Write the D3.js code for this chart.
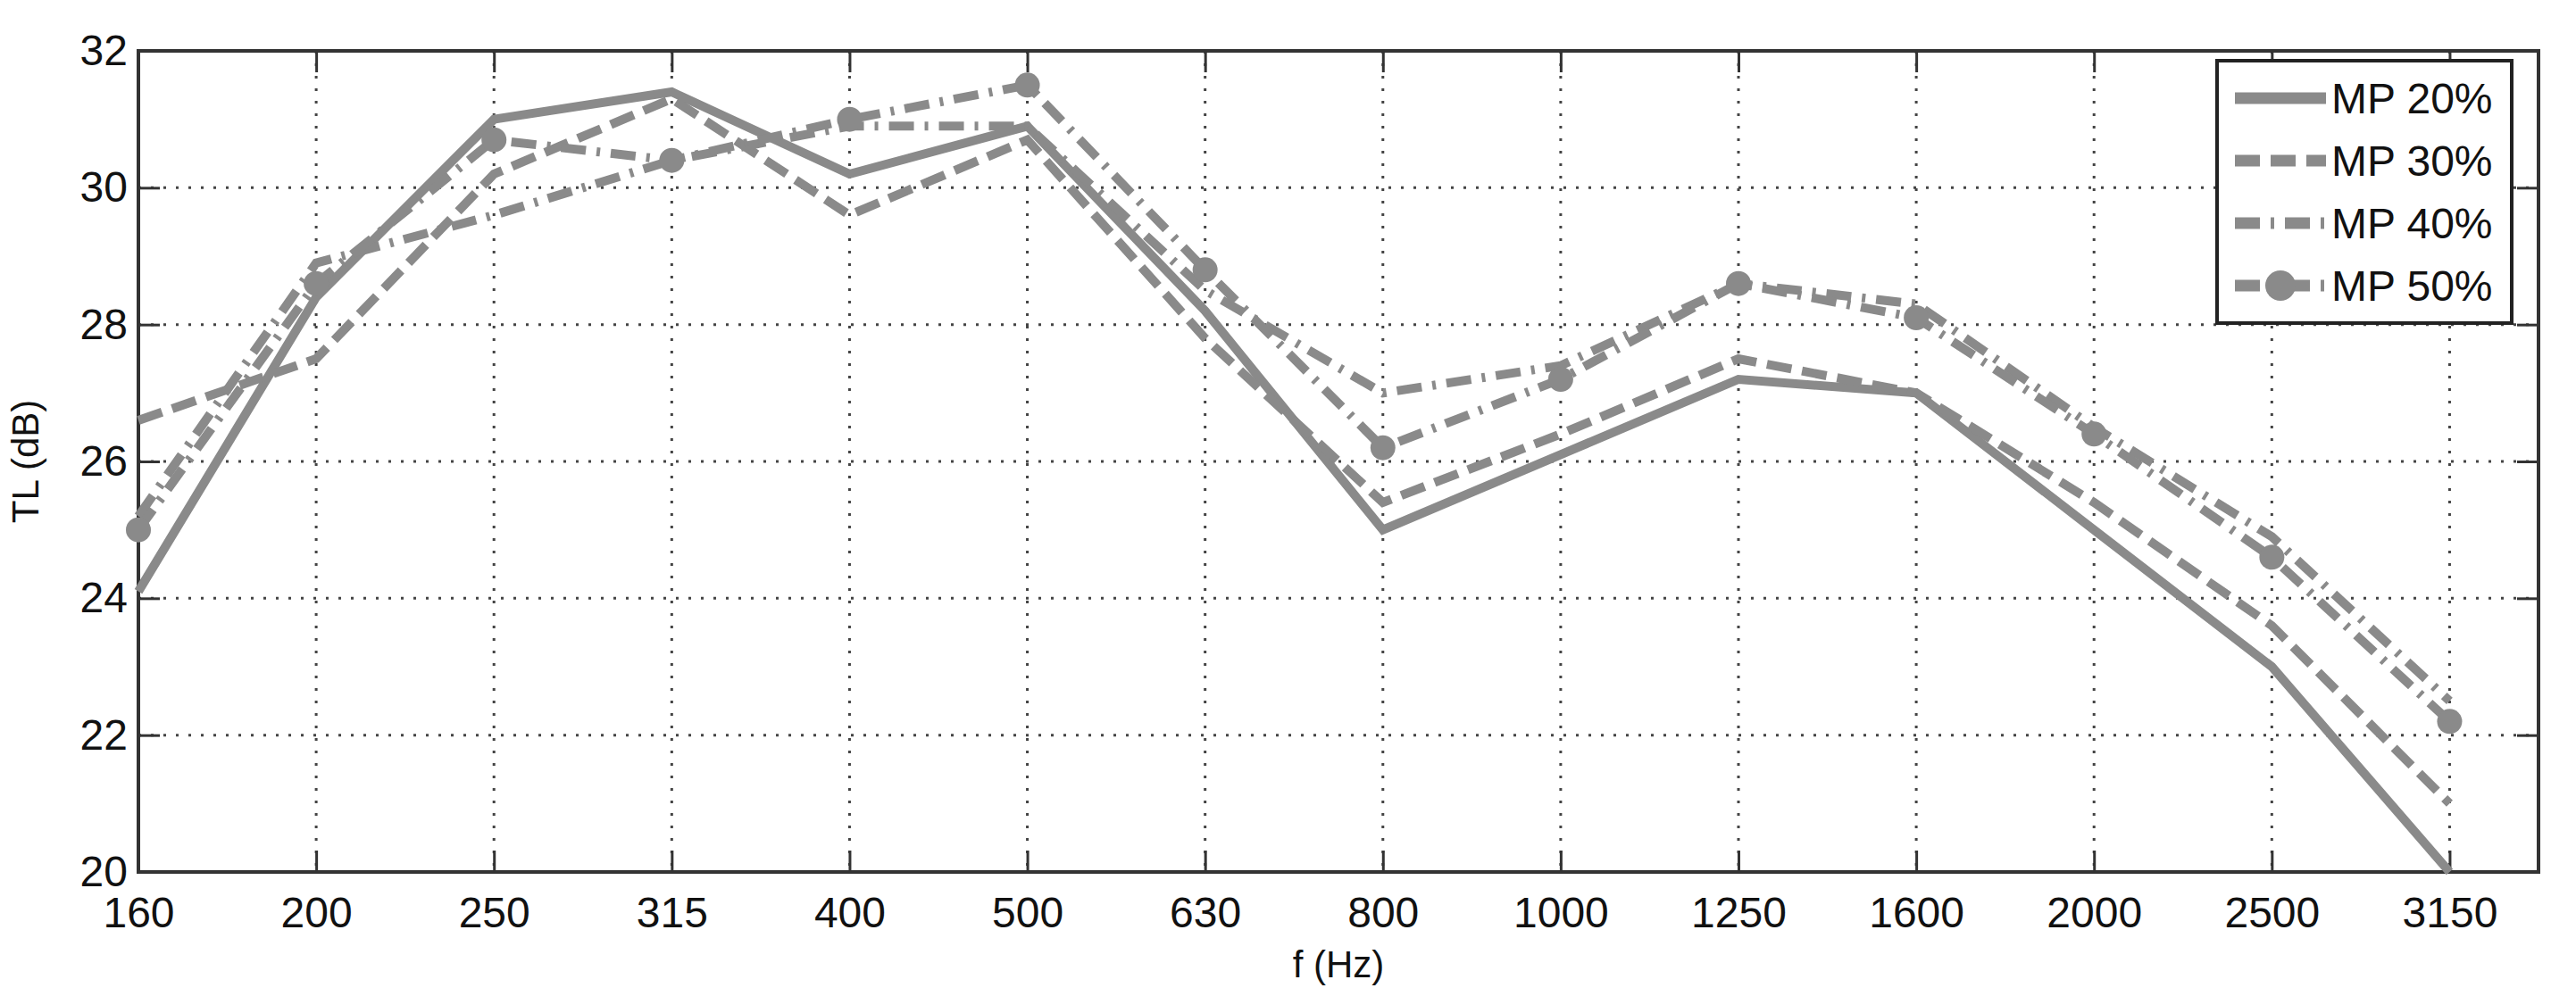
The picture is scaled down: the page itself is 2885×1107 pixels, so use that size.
<!DOCTYPE html>
<html>
<head>
<meta charset="utf-8">
<script src="https://cdn.jsdelivr.net/npm/d3@7"></script>
<style>
  body { margin: 0; background: #fff; }
  text { font-family: "Liberation Sans", Arial, sans-serif; }
</style>
</head>
<body>
<div id="chart"></div>
<script>
const freqs = ["160","200","250","315","400","500","630","800","1000","1250","1600","2000","2500","3150"];
const yTicks = [20, 22, 24, 26, 28, 30, 32];
const mp20 = [24.1, 28.4, 31.0, 31.4, 30.2, 30.9, 28.2, 25.0, 26.1, 27.2, 27.0, 25.0, 23.0, 20.0];
const mp30 = [26.6, 27.5, 30.2, 31.3, 29.6, 30.7, 27.8, 25.4, 26.4, 27.5, 27.0, 25.4, 23.6, 21.0];
const mp40 = [25.2, 28.9, 29.6, 30.4, 30.9, 30.9, 28.5, 27.0, 27.4, 28.6, 28.3, 26.5, 24.9, 22.5];
const mp50 = [25.0, 28.6, 30.7, 30.4, 31.0, 31.5, 28.8, 26.2, 27.2, 28.6, 28.1, 26.4, 24.6, 22.2];
const seriesNames = ["MP 20%", "MP 30%", "MP 40%", "MP 50%"];

const W = 2885, H = 1107;
const margin = { top: 57, right: 42, bottom: 130, left: 155 };
const width = W - margin.left - margin.right;
const height = H - margin.top - margin.bottom;
const grey = "#8a8a8a";

const svg = d3.select("#chart").append("svg")
  .attr("width", W).attr("height", H);
const g = svg.append("g").attr("transform", `translate(${margin.left},${margin.top})`);

const x = d3.scaleLinear().domain([0, 13.5]).range([0, width]);
const y = d3.scaleLinear().domain([20, 32]).range([height, 0]);

// grid
g.append("g").selectAll("line").data(d3.range(1, freqs.length)).join("line")
  .attr("x1", d => x(d)).attr("x2", d => x(d)).attr("y1", 0).attr("y2", height)
  .attr("stroke", "#444").attr("stroke-width", 3).attr("stroke-dasharray", "3 11");
g.append("g").selectAll("line").data(yTicks.slice(1, -1)).join("line")
  .attr("y1", d => y(d)).attr("y2", d => y(d)).attr("x1", 0).attr("x2", width)
  .attr("stroke", "#444").attr("stroke-width", 3).attr("stroke-dasharray", "3 11");

// axes
const xAxis = g.append("g").attr("transform", `translate(0,${height})`)
  .call(d3.axisBottom(x).tickValues(d3.range(freqs.length)).tickFormat(i => freqs[i]).tickSize(-24).tickPadding(28));
const yAxis = g.append("g")
  .call(d3.axisLeft(y).tickValues(yTicks).tickFormat(d3.format("d")).tickSize(-24).tickPadding(12));
const xTop = g.append("g")
  .call(d3.axisTop(x).tickValues(d3.range(freqs.length)).tickFormat("").tickSize(-24));
const yRight = g.append("g").attr("transform", `translate(${width},0)`)
  .call(d3.axisRight(y).tickValues(yTicks).tickFormat("").tickSize(-24));
[xAxis, yAxis, xTop, yRight].forEach(a => {
  a.select(".domain").remove();
  a.selectAll("line").attr("stroke", "#333").attr("stroke-width", 3);
  a.selectAll("text").attr("font-size", 48).attr("fill", "#111");
});
xAxis.selectAll("text").attr("dy", "0.71em");
g.append("rect").attr("width", width).attr("height", height)
  .attr("fill", "none").attr("stroke", "#333").attr("stroke-width", 4);

// labels
g.append("text").attr("x", width / 2).attr("y", height + 118)
  .attr("text-anchor", "middle").attr("font-size", 42).attr("fill", "#111").text("f (Hz)");
g.append("text").attr("transform", `translate(-112,${height / 2}) rotate(-90)`)
  .attr("text-anchor", "middle").attr("font-size", 42).attr("fill", "#111").text("TL (dB)");

// series
const styles = [
  { data: mp20, dash: null },
  { data: mp30, dash: "28 12" },
  { data: mp40, dash: "28 12 4 12" },
  { data: mp50, dash: "28 12 4 12" }
];
const line = d3.line().x((d, i) => x(i)).y(d => y(d));
styles.forEach((s, k) => {
  g.append("path").datum(s.data).attr("d", line)
    .attr("fill", "none").attr("stroke", grey).attr("stroke-width", 10)
    .attr("stroke-dasharray", s.dash);
});
g.append("g").selectAll("circle").data(mp50).join("circle")
  .attr("cx", (d, i) => x(i)).attr("cy", d => y(d)).attr("r", 14).attr("fill", grey);

// legend
const lg = svg.append("g").attr("transform", "translate(2483,68)");
lg.append("rect").attr("width", 330).attr("height", 294)
  .attr("fill", "#fff").attr("stroke", "#222").attr("stroke-width", 4);
seriesNames.forEach((name, k) => {
  const yy = 42 + k * 70;
  lg.append("line").attr("x1", 20).attr("x2", 122).attr("y1", yy).attr("y2", yy)
    .attr("stroke", grey).attr("stroke-width", 13).attr("stroke-dasharray", styles[k].dash);
  if (k === 3) lg.append("circle").attr("cx", 71).attr("cy", yy).attr("r", 17).attr("fill", grey);
  lg.append("text").attr("x", 128).attr("y", yy).attr("dy", "0.35em")
    .attr("font-size", 48).attr("fill", "#111").text(name);
});
</script>
</body>
</html>
